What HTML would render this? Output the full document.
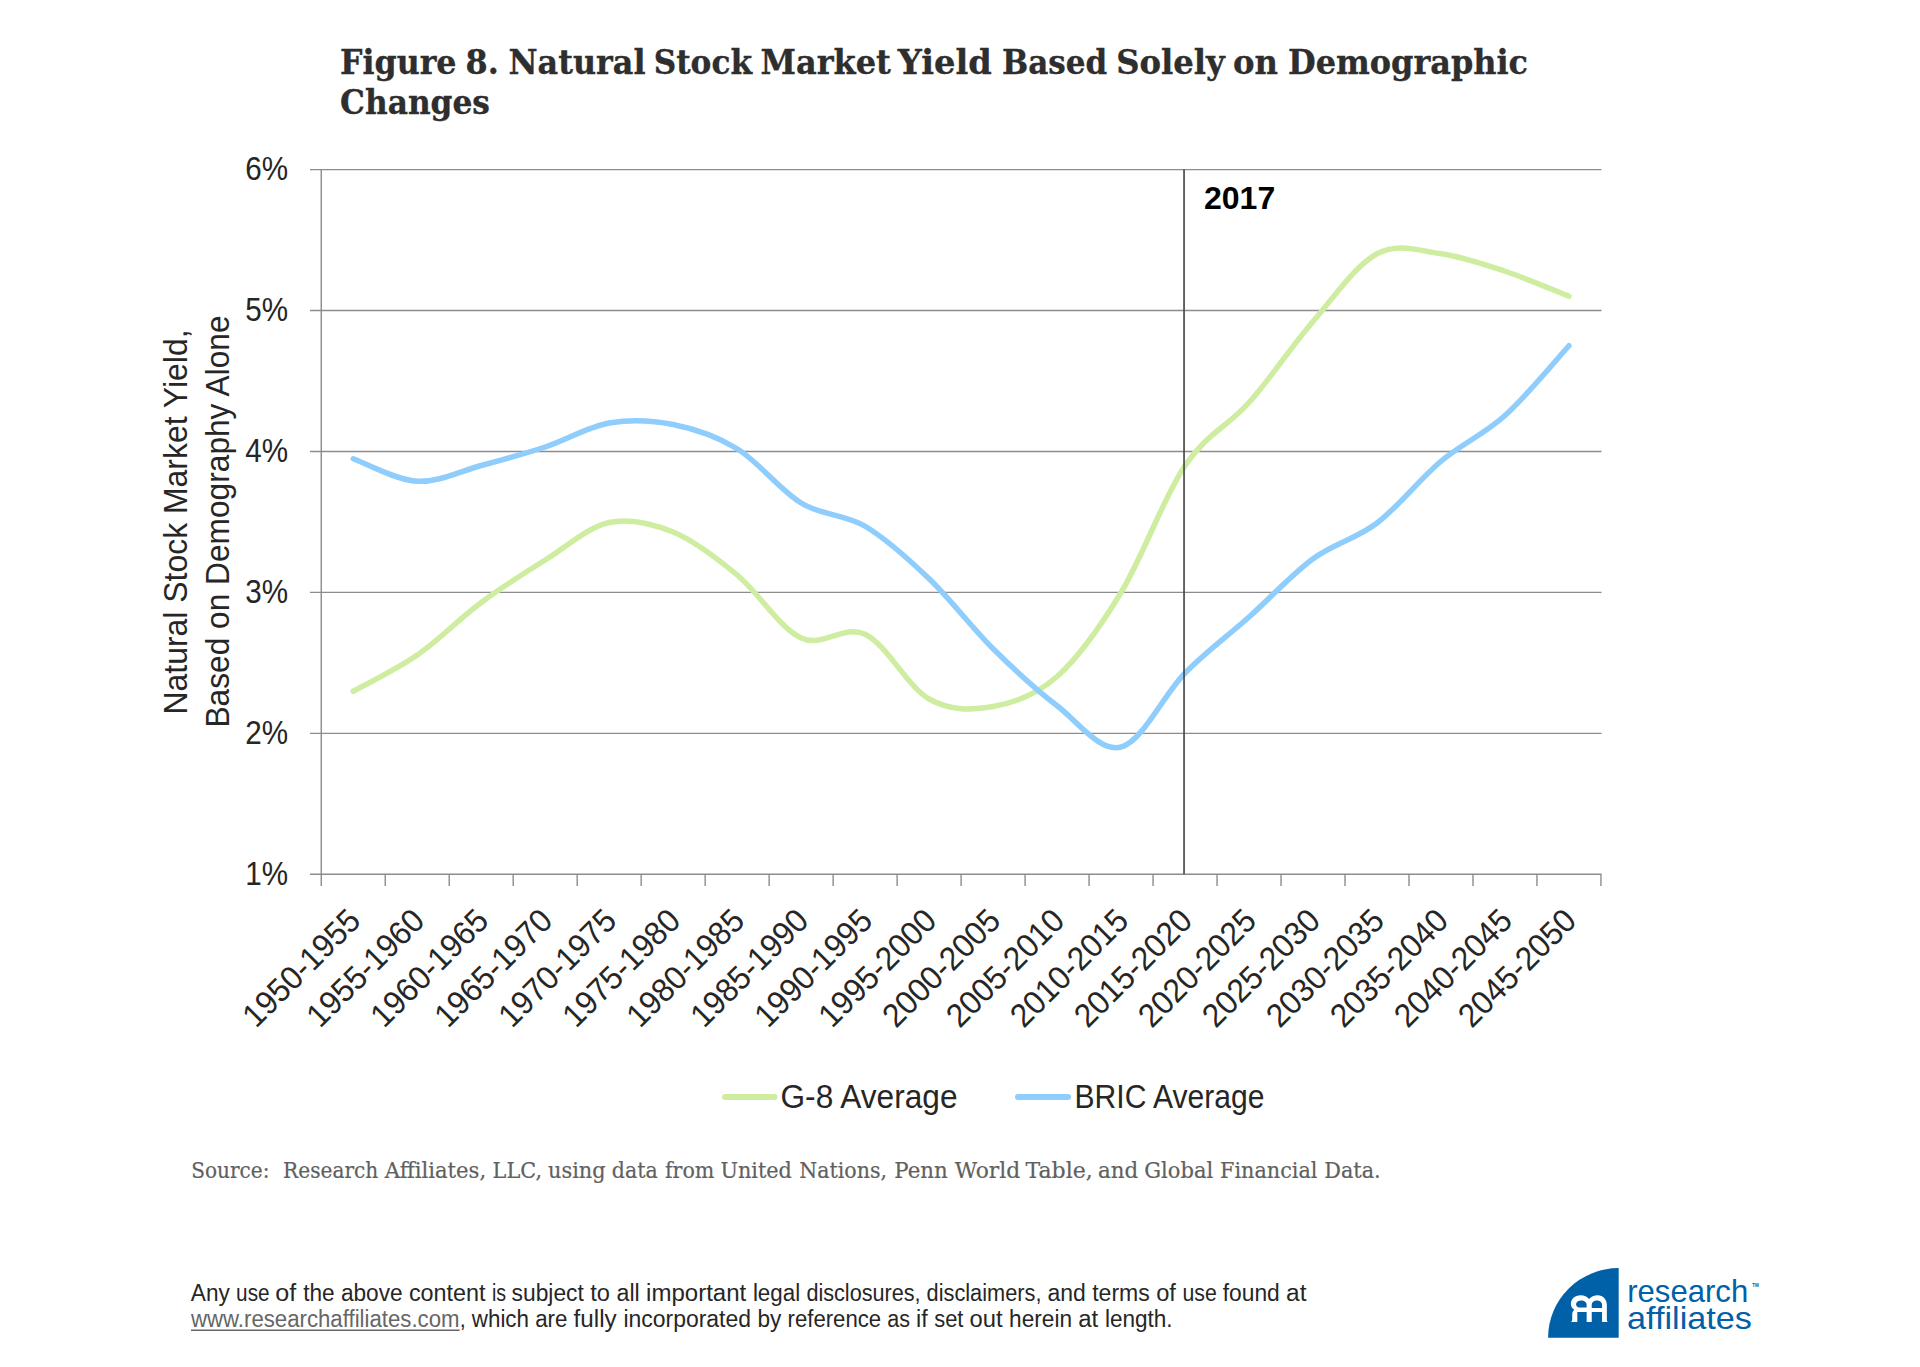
<!DOCTYPE html>
<html lang="en"><head><meta charset="utf-8"><title>Figure 8. Natural Stock Market Yield Based Solely on Demographic Changes</title>
<style>html,body{margin:0;padding:0;background:#fff}svg{display:block}text{white-space:pre}</style></head><body>
<svg width="1920" height="1367" viewBox="0 0 1920 1367">
<rect width="1920" height="1367" fill="#fff"/>
<g font-family='"DejaVu Serif", "Liberation Serif", serif' font-weight="700" font-size="33" fill="#2e2e2e" stroke="#2e2e2e" stroke-width="0.35">
<text y="74" ><tspan x="340.1" textLength="116.4" lengthAdjust="spacingAndGlyphs">Figure</tspan> <tspan x="465.6" textLength="33.2" lengthAdjust="spacingAndGlyphs">8.</tspan> <tspan x="508.5" textLength="137.0" lengthAdjust="spacingAndGlyphs">Natural</tspan> <tspan x="653.7" textLength="98.3" lengthAdjust="spacingAndGlyphs">Stock</tspan> <tspan x="760.5" textLength="130.3" lengthAdjust="spacingAndGlyphs">Market</tspan> <tspan x="897.8" textLength="93.9" lengthAdjust="spacingAndGlyphs">Yield</tspan> <tspan x="1002.0" textLength="105.2" lengthAdjust="spacingAndGlyphs">Based</tspan> <tspan x="1116.2" textLength="108.6" lengthAdjust="spacingAndGlyphs">Solely</tspan> <tspan x="1233.0" textLength="45.0" lengthAdjust="spacingAndGlyphs">on</tspan> <tspan x="1288.0" textLength="240.0" lengthAdjust="spacingAndGlyphs">Demographic</tspan></text>
<text y="114" ><tspan x="340.1" textLength="149.8" lengthAdjust="spacingAndGlyphs">Changes</tspan></text>
</g>
<g stroke="#8c8c8c" stroke-width="1.4" fill="none">
<line x1="310" y1="169.60" x2="1601.5" y2="169.60"/>
<line x1="310" y1="310.54" x2="1601.5" y2="310.54"/>
<line x1="310" y1="451.48" x2="1601.5" y2="451.48"/>
<line x1="310" y1="592.42" x2="1601.5" y2="592.42"/>
<line x1="310" y1="733.36" x2="1601.5" y2="733.36"/>
<line x1="310" y1="874.30" x2="1601.5" y2="874.30"/>
<line x1="321.25" y1="169.6" x2="321.25" y2="886"/>
<line x1="385.24" y1="874.3" x2="385.24" y2="886"/>
<line x1="449.22" y1="874.3" x2="449.22" y2="886"/>
<line x1="513.20" y1="874.3" x2="513.20" y2="886"/>
<line x1="577.19" y1="874.3" x2="577.19" y2="886"/>
<line x1="641.17" y1="874.3" x2="641.17" y2="886"/>
<line x1="705.16" y1="874.3" x2="705.16" y2="886"/>
<line x1="769.14" y1="874.3" x2="769.14" y2="886"/>
<line x1="833.13" y1="874.3" x2="833.13" y2="886"/>
<line x1="897.12" y1="874.3" x2="897.12" y2="886"/>
<line x1="961.10" y1="874.3" x2="961.10" y2="886"/>
<line x1="1025.09" y1="874.3" x2="1025.09" y2="886"/>
<line x1="1089.07" y1="874.3" x2="1089.07" y2="886"/>
<line x1="1153.05" y1="874.3" x2="1153.05" y2="886"/>
<line x1="1217.04" y1="874.3" x2="1217.04" y2="886"/>
<line x1="1281.03" y1="874.3" x2="1281.03" y2="886"/>
<line x1="1345.01" y1="874.3" x2="1345.01" y2="886"/>
<line x1="1408.99" y1="874.3" x2="1408.99" y2="886"/>
<line x1="1472.98" y1="874.3" x2="1472.98" y2="886"/>
<line x1="1536.96" y1="874.3" x2="1536.96" y2="886"/>
<line x1="1600.95" y1="874.3" x2="1600.95" y2="886"/>
</g>
<path d="M353.25,691.25 C363.91,685.21 395.91,669.79 417.24,655.00 C438.56,640.21 459.89,618.33 481.22,602.50 C502.55,586.67 523.88,573.33 545.20,560.00 C566.53,546.67 587.86,527.17 609.19,522.50 C630.52,517.83 651.85,523.25 673.17,532.00 C694.50,540.75 715.83,557.33 737.16,575.00 C758.49,592.67 779.82,628.13 801.14,638.00 C822.47,647.87 843.80,624.03 865.13,634.20 C886.46,644.37 907.79,686.95 929.12,699.00 C950.44,711.05 971.77,710.25 993.10,706.50 C1014.43,702.75 1035.76,695.50 1057.09,676.50 C1078.41,657.50 1099.74,627.67 1121.07,592.50 C1142.40,557.33 1163.73,497.17 1185.05,465.50 C1206.38,433.83 1227.71,426.50 1249.04,402.50 C1270.37,378.50 1291.70,346.29 1313.03,321.50 C1334.35,296.71 1355.68,265.04 1377.01,253.75 C1398.34,242.46 1419.67,250.83 1440.99,253.75 C1462.32,256.67 1483.65,264.17 1504.98,271.25 C1526.31,278.33 1558.30,292.08 1568.96,296.25" fill="none" stroke="#ceeda0" stroke-width="5.5" stroke-linecap="round" stroke-linejoin="round"/>
<path d="M353.25,458.75 C363.91,462.50 395.91,480.12 417.24,481.25 C438.56,482.38 459.89,471.21 481.22,465.50 C502.55,459.79 523.88,454.08 545.20,447.00 C566.53,439.92 587.86,426.75 609.19,423.00 C630.52,419.25 651.85,420.21 673.17,424.50 C694.50,428.79 715.83,435.67 737.16,448.75 C758.49,461.83 779.82,490.08 801.14,503.00 C822.47,515.92 843.80,513.62 865.13,526.25 C886.46,538.88 907.79,558.33 929.12,578.75 C950.44,599.17 971.77,627.58 993.10,648.75 C1014.43,669.92 1035.76,689.42 1057.09,705.80 C1078.41,722.17 1099.74,752.47 1121.07,747.00 C1142.40,741.53 1163.73,694.67 1185.05,673.00 C1206.38,651.33 1227.71,636.04 1249.04,617.00 C1270.37,597.96 1291.70,574.42 1313.03,558.75 C1334.35,543.08 1355.68,539.25 1377.01,523.00 C1398.34,506.75 1419.67,479.17 1440.99,461.25 C1462.32,443.33 1483.65,434.75 1504.98,415.50 C1526.31,396.25 1558.30,357.38 1568.96,345.75" fill="none" stroke="#8fcdfc" stroke-width="5.5" stroke-linecap="round" stroke-linejoin="round"/>
<line x1="1184.05" y1="169.6" x2="1184.05" y2="874.3" stroke="#4a4a4a" stroke-width="1.9" opacity="0.88"/>
<text x="1204" y="209" font-family='"Liberation Sans", sans-serif' font-weight="700" font-size="32" fill="#000">2017</text>
<g font-family='"Liberation Sans", sans-serif' font-size="33" fill="#262626" text-anchor="end">
<text x="288" y="180.40" textLength="42.8" lengthAdjust="spacingAndGlyphs">6%</text>
<text x="288" y="321.34" textLength="42.8" lengthAdjust="spacingAndGlyphs">5%</text>
<text x="288" y="462.28" textLength="42.8" lengthAdjust="spacingAndGlyphs">4%</text>
<text x="288" y="603.22" textLength="42.8" lengthAdjust="spacingAndGlyphs">3%</text>
<text x="288" y="744.16" textLength="42.8" lengthAdjust="spacingAndGlyphs">2%</text>
<text x="288" y="885.10" textLength="42.8" lengthAdjust="spacingAndGlyphs">1%</text>
</g>
<g font-family='"Liberation Sans", sans-serif' font-size="33" fill="#262626" text-anchor="middle">
<text transform="translate(186.7,522) rotate(-90)" textLength="385" lengthAdjust="spacingAndGlyphs">Natural Stock Market Yield,</text>
<text transform="translate(228.8,521.5) rotate(-90)" textLength="412" lengthAdjust="spacingAndGlyphs">Based on Demography Alone</text>
</g>
<g font-family='"Liberation Sans", sans-serif' font-size="33" fill="#262626" text-anchor="end">
<text transform="translate(362.45,922.70) rotate(-45)" textLength="150.5" lengthAdjust="spacingAndGlyphs">1950-1955</text>
<text transform="translate(426.44,922.70) rotate(-45)" textLength="150.5" lengthAdjust="spacingAndGlyphs">1955-1960</text>
<text transform="translate(490.42,922.70) rotate(-45)" textLength="150.5" lengthAdjust="spacingAndGlyphs">1960-1965</text>
<text transform="translate(554.40,922.70) rotate(-45)" textLength="150.5" lengthAdjust="spacingAndGlyphs">1965-1970</text>
<text transform="translate(618.39,922.70) rotate(-45)" textLength="150.5" lengthAdjust="spacingAndGlyphs">1970-1975</text>
<text transform="translate(682.38,922.70) rotate(-45)" textLength="150.5" lengthAdjust="spacingAndGlyphs">1975-1980</text>
<text transform="translate(746.36,922.70) rotate(-45)" textLength="150.5" lengthAdjust="spacingAndGlyphs">1980-1985</text>
<text transform="translate(810.35,922.70) rotate(-45)" textLength="150.5" lengthAdjust="spacingAndGlyphs">1985-1990</text>
<text transform="translate(874.33,922.70) rotate(-45)" textLength="150.5" lengthAdjust="spacingAndGlyphs">1990-1995</text>
<text transform="translate(938.32,922.70) rotate(-45)" textLength="150.5" lengthAdjust="spacingAndGlyphs">1995-2000</text>
<text transform="translate(1002.30,922.70) rotate(-45)" textLength="150.5" lengthAdjust="spacingAndGlyphs">2000-2005</text>
<text transform="translate(1066.29,922.70) rotate(-45)" textLength="150.5" lengthAdjust="spacingAndGlyphs">2005-2010</text>
<text transform="translate(1130.27,922.70) rotate(-45)" textLength="150.5" lengthAdjust="spacingAndGlyphs">2010-2015</text>
<text transform="translate(1194.25,922.70) rotate(-45)" textLength="150.5" lengthAdjust="spacingAndGlyphs">2015-2020</text>
<text transform="translate(1258.24,922.70) rotate(-45)" textLength="150.5" lengthAdjust="spacingAndGlyphs">2020-2025</text>
<text transform="translate(1322.23,922.70) rotate(-45)" textLength="150.5" lengthAdjust="spacingAndGlyphs">2025-2030</text>
<text transform="translate(1386.21,922.70) rotate(-45)" textLength="150.5" lengthAdjust="spacingAndGlyphs">2030-2035</text>
<text transform="translate(1450.19,922.70) rotate(-45)" textLength="150.5" lengthAdjust="spacingAndGlyphs">2035-2040</text>
<text transform="translate(1514.18,922.70) rotate(-45)" textLength="150.5" lengthAdjust="spacingAndGlyphs">2040-2045</text>
<text transform="translate(1578.16,922.70) rotate(-45)" textLength="150.5" lengthAdjust="spacingAndGlyphs">2045-2050</text>
</g>
<line x1="725" y1="1097" x2="774.5" y2="1097" stroke="#ceeda0" stroke-width="6" stroke-linecap="round"/>
<line x1="1018" y1="1097" x2="1068" y2="1097" stroke="#8fcdfc" stroke-width="6" stroke-linecap="round"/>
<g font-family='"Liberation Sans", sans-serif' font-size="33" fill="#262626">
<text x="780.5" y="1107.5" textLength="177" lengthAdjust="spacingAndGlyphs">G-8 Average</text>
<text x="1074.5" y="1107.5" textLength="190" lengthAdjust="spacingAndGlyphs">BRIC Average</text>
</g>
<text y="1178" font-family='"DejaVu Serif", "Liberation Serif", serif' font-size="22" fill="#606060" stroke="#606060" stroke-width="0.2"><tspan x="191.3" textLength="78.2" lengthAdjust="spacingAndGlyphs">Source:</tspan> <tspan x="283.1" textLength="95.2" lengthAdjust="spacingAndGlyphs">Research</tspan> <tspan x="384.8" textLength="101.4" lengthAdjust="spacingAndGlyphs">Affiliates,</tspan> <tspan x="492.6" textLength="49.4" lengthAdjust="spacingAndGlyphs">LLC,</tspan> <tspan x="548.0" textLength="57.6" lengthAdjust="spacingAndGlyphs">using</tspan> <tspan x="611.8" textLength="45.9" lengthAdjust="spacingAndGlyphs">data</tspan> <tspan x="665.0" textLength="49.4" lengthAdjust="spacingAndGlyphs">from</tspan> <tspan x="720.5" textLength="71.4" lengthAdjust="spacingAndGlyphs">United</tspan> <tspan x="799.3" textLength="87.7" lengthAdjust="spacingAndGlyphs">Nations,</tspan> <tspan x="894.3" textLength="53.4" lengthAdjust="spacingAndGlyphs">Penn</tspan> <tspan x="954.8" textLength="65.4" lengthAdjust="spacingAndGlyphs">World</tspan> <tspan x="1025.5" textLength="67.2" lengthAdjust="spacingAndGlyphs">Table,</tspan> <tspan x="1098.0" textLength="40.2" lengthAdjust="spacingAndGlyphs">and</tspan> <tspan x="1144.3" textLength="68.9" lengthAdjust="spacingAndGlyphs">Global</tspan> <tspan x="1220.1" textLength="97.3" lengthAdjust="spacingAndGlyphs">Financial</tspan> <tspan x="1324.3" textLength="56.4" lengthAdjust="spacingAndGlyphs">Data.</tspan></text>
<g font-family='"Liberation Sans", sans-serif' font-size="23" fill="#262626">
<text y="1300.7" ><tspan x="190.8" textLength="45.3" lengthAdjust="spacingAndGlyphs">Any </tspan><tspan x="236.1" textLength="39.2" lengthAdjust="spacingAndGlyphs">use </tspan><tspan x="275.3" textLength="27.9" lengthAdjust="spacingAndGlyphs">of </tspan><tspan x="303.2" textLength="37.7" lengthAdjust="spacingAndGlyphs">the </tspan><tspan x="340.9" textLength="68.0" lengthAdjust="spacingAndGlyphs">above </tspan><tspan x="408.9" textLength="83.1" lengthAdjust="spacingAndGlyphs">content </tspan><tspan x="492.0" textLength="19.6" lengthAdjust="spacingAndGlyphs">is </tspan><tspan x="511.6" textLength="78.6" lengthAdjust="spacingAndGlyphs">subject </tspan><tspan x="590.2" textLength="26.3" lengthAdjust="spacingAndGlyphs">to </tspan><tspan x="616.5" textLength="29.6" lengthAdjust="spacingAndGlyphs">all </tspan><tspan x="646.1" textLength="106.8" lengthAdjust="spacingAndGlyphs">important </tspan><tspan x="752.9" textLength="53.5" lengthAdjust="spacingAndGlyphs">legal </tspan><tspan x="806.4" textLength="120.2" lengthAdjust="spacingAndGlyphs">disclosures, </tspan><tspan x="926.6" textLength="120.9" lengthAdjust="spacingAndGlyphs">disclaimers, </tspan><tspan x="1047.5" textLength="44.7" lengthAdjust="spacingAndGlyphs">and </tspan><tspan x="1092.2" textLength="64.0" lengthAdjust="spacingAndGlyphs">terms </tspan><tspan x="1156.2" textLength="26.3" lengthAdjust="spacingAndGlyphs">of </tspan><tspan x="1182.5" textLength="40.2" lengthAdjust="spacingAndGlyphs">use </tspan><tspan x="1222.7" textLength="63.4" lengthAdjust="spacingAndGlyphs">found </tspan><tspan x="1286.1" textLength="20.4" lengthAdjust="spacingAndGlyphs">at</tspan></text>
<text y="1327.3"><tspan x="191" textLength="268.5" lengthAdjust="spacingAndGlyphs" fill="#666">www.researchaffiliates.com</tspan><tspan x="459.8" textLength="12" lengthAdjust="spacingAndGlyphs">, </tspan><tspan x="471.8" textLength="63.4" lengthAdjust="spacingAndGlyphs">which </tspan><tspan x="535.2" textLength="38.4" lengthAdjust="spacingAndGlyphs">are </tspan><tspan x="573.6" textLength="49.8" lengthAdjust="spacingAndGlyphs">fully </tspan><tspan x="623.4" textLength="134.0" lengthAdjust="spacingAndGlyphs">incorporated </tspan><tspan x="757.4" textLength="30.2" lengthAdjust="spacingAndGlyphs">by </tspan><tspan x="787.6" textLength="99.7" lengthAdjust="spacingAndGlyphs">reference </tspan><tspan x="887.3" textLength="28.7" lengthAdjust="spacingAndGlyphs">as </tspan><tspan x="916.0" textLength="18.2" lengthAdjust="spacingAndGlyphs">if </tspan><tspan x="934.2" textLength="35.3" lengthAdjust="spacingAndGlyphs">set </tspan><tspan x="969.5" textLength="39.6" lengthAdjust="spacingAndGlyphs">out </tspan><tspan x="1009.1" textLength="69.2" lengthAdjust="spacingAndGlyphs">herein </tspan><tspan x="1078.3" textLength="26.6" lengthAdjust="spacingAndGlyphs">at </tspan><tspan x="1104.9" textLength="67.7" lengthAdjust="spacingAndGlyphs">length.</tspan></text>
<line x1="191" y1="1330.2" x2="459.6" y2="1330.2" stroke="#666" stroke-width="1.5"/>
</g>
<g>
<path d="M1618.7,1268.1 L1618.7,1337.7 L1548.1,1337.7 A70.6,69.6 0 0 1 1618.7,1268.1 Z" fill="#0060a8"/>
<g transform="translate(1540,1260) scale(0.062189)"><path fill="#fff" fill-rule="evenodd" d="M497,998 L600,998 L600,835 L750,835 L750,998 L832,998 L832,835 L998,835 L998,998 L1090,998 C1080,985 1075,972 1075,955 L1075,720 C1075,630 1010,565 930,565 C870,565 820,590 790,628 C760,590 715,565 650,565 C560,565 497,625 497,705 C497,755 520,785 552,800 C527,815 518,850 518,880 L518,955 C518,972 510,985 497,998 Z M750,765 L750,720 C750,680 715,650 665,650 C615,650 580,675 580,710 C580,745 610,765 650,765 Z M832,770 L832,720 C832,680 865,650 915,650 C965,650 998,680 998,720 L998,770 Z"/></g>
<g font-family='"Liberation Sans", sans-serif' font-size="30.5" fill="#0060a8">
<text x="1627.2" y="1302.3" textLength="121" lengthAdjust="spacingAndGlyphs">research</text>
<text x="1627" y="1329" textLength="125" lengthAdjust="spacingAndGlyphs">affiliates</text>
<text x="1752.2" y="1286.5" font-size="4.6" font-weight="700" textLength="6.6" lengthAdjust="spacingAndGlyphs">TM</text>
</g></g>
</svg></body></html>
